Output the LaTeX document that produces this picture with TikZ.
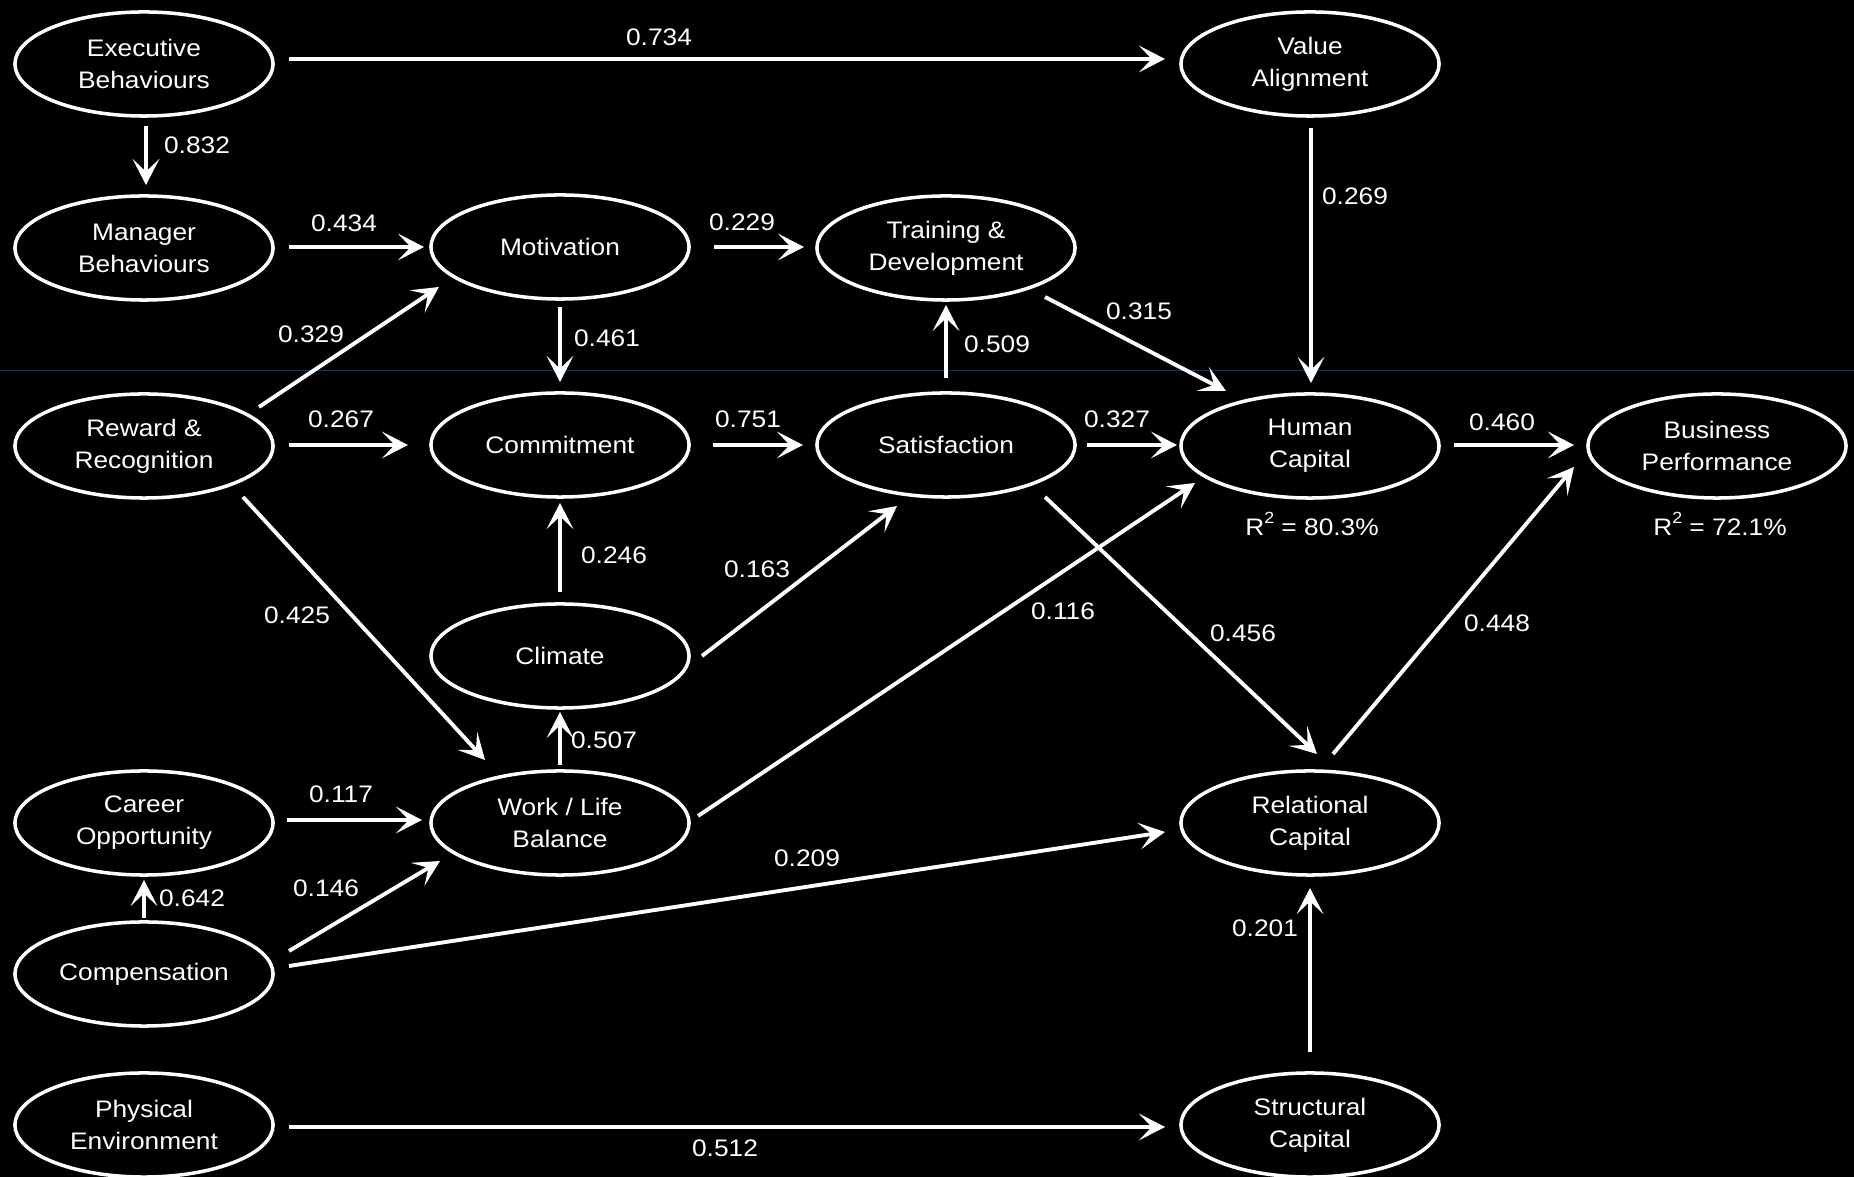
\documentclass[tikz,border=0pt]{standalone}
\usepackage{fontspec}
\setmainfont{Liberation Sans}[FakeStretch=1.1]
\usetikzlibrary{arrows.meta,calc,shapes.geometric}

\tikzset{
	latent/.style={ellipse,draw=white,line width=1pt,minimum width=2.58cm,minimum height=1.04cm,
		inner sep=0pt,align=center,text=white,font=\fontsize{6.8}{9.1}\selectfont},
	coef/.style={inner sep=0pt,text=white,font=\fontsize{6.8}{9.1}\selectfont},
	link/.style={draw=white,line width=1.1pt,-{Stealth[length=7.4pt,width=7.6pt,inset=3.6pt]}}
}
\newcommand{\rsq}{R\raisebox{0.9ex}{\fontsize{4.6}{5}\selectfont 2}}

\begin{document}
\begin{tikzpicture}[x=0.01cm,y=-0.01cm]
	\fill[black] (0,0) rectangle (1854,1177);
	\useasboundingbox (0,0) rectangle (1854,1177);
	\draw[line width=0.2pt,color={rgb,255:red,20;green,50;blue,85}] (0,370)--(1854,370);

	% constructs
	\node[latent] (exe) at (144,64) {Executive\\Behaviours};
	\node[latent] (mgr) at (144,248) {Manager\\Behaviours};
	\node[latent] (rew) at (144,446) {Reward \&\\Recognition};
	\node[latent] (car) at (144,823) {Career\\Opportunity};
	\node[latent] (comp) at (144,974) {Compensation};
	\node[latent] (phys) at (144,1125) {Physical\\Environment};
	\node[latent] (mot) at (560,247) {Motivation};
	\node[latent] (com) at (560,445) {Commitment};
	\node[latent] (cli) at (560,656) {Climate};
	\node[latent] (wlb) at (560,823) {Work / Life\\Balance};
	\node[latent] (trn) at (946,248) {Training \&\\Development};
	\node[latent] (sat) at (946,445) {Satisfaction};
	\node[latent] (val) at (1310,64) {Value\\Alignment};
	\node[latent] (hum) at (1310,446) {Human\\Capital};
	\node[latent] (rel) at (1310,823) {Relational\\Capital};
	\node[latent] (str) at (1310,1125) {Structural\\Capital};
	\node[latent] (bus) at (1717,446) {Business\\Performance};

	% paths
	\draw[link] ($(exe)+(145,-5)$)--($(val)+(-145,-5)$);
	\draw[link] ($(exe)+(2,62)$)--($(mgr)+(2,-63)$);
	\draw[link] ($(mgr)+(145,-1)$)--($(mot)+(-136,0)$);
	\draw[link] ($(mot)+(154,0)$)--($(trn)+(-142,-1)$);
	\draw[link] ($(mot)+(0,60)$)--($(com)+(0,-63)$);
	\draw[link] ($(rew)+(115,-39)$)--($(mot)+(-121,40)$);
	\draw[link] ($(rew)+(145,-1)$)--($(com)+(-152,0)$);
	\draw[link] ($(rew)+(99,51)$)--($(wlb)+(-75,-63)$);
	\draw[link] ($(com)+(153,0)$)--($(sat)+(-143,0)$);
	\draw[link] ($(cli)+(0,-64)$)--($(com)+(0,58)$);
	\draw[link] ($(cli)+(142,0)$)--($(sat)+(-49,61)$);
	\draw[link] ($(wlb)+(0,-58)$)--($(cli)+(0,56)$);
	\draw[link] ($(wlb)+(138,-7)$)--($(hum)+(-115,37)$);
	\draw[link] ($(trn)+(99,49)$)--($(hum)+(-84,-55)$);
	\draw[link] ($(sat)+(0,-67)$)--($(trn)+(0,57)$);
	\draw[link] ($(val)+(1,64)$)--($(hum)+(1,-63)$);
	\draw[link] ($(sat)+(141,0)$)--($(hum)+(-133,-1)$);
	\draw[link] ($(sat)+(99,52)$)--($(rel)+(7,-69)$);
	\draw[link] ($(hum)+(144,-1)$)--($(bus)+(-143,-1)$);
	\draw[link] ($(rel)+(23,-69)$)--($(bus)+(-143,21)$);
	\draw[link] ($(car)+(143,-3)$)--($(wlb)+(-138,-3)$);
	\draw[link] ($(comp)+(0,-56)$)--($(car)+(0,57)$);
	\draw[link] ($(comp)+(145,-23)$)--($(wlb)+(-120,38)$);
	\draw[link] ($(comp)+(145,-8)$)--($(rel)+(-145,9)$);
	\draw[link] ($(str)+(0,-73)$)--($(rel)+(0,65)$);
	\draw[link] ($(phys)+(145,2)$)--($(str)+(-145,2)$);

	% coefficients
	\node[coef] (c734) at (659,37) {0.734};
	\node[coef] (c832) at (197,145) {0.832};
	\node[coef] (c434) at (344,223) {0.434};
	\node[coef] (c229) at (742,222) {0.229};
	\node[coef] (c269) at (1355,196) {0.269};
	\node[coef] (c329) at (311,334) {0.329};
	\node[coef] (c461) at (607,338) {0.461};
	\node[coef] (c315) at (1139,311) {0.315};
	\node[coef] (c509) at (997,344) {0.509};
	\node[coef] (c267) at (341,419) {0.267};
	\node[coef] (c751) at (748,419) {0.751};
	\node[coef] (c327) at (1117,419) {0.327};
	\node[coef] (c460) at (1502,422) {0.460};
	\node[coef] (c246) at (614,555) {0.246};
	\node[coef] (c163) at (757,569) {0.163};
	\node[coef] (c425) at (297,615) {0.425};
	\node[coef] (c116) at (1063,611) {0.116};
	\node[coef] (c456) at (1243,633) {0.456};
	\node[coef] (c448) at (1497,623) {0.448};
	\node[coef] (c507) at (604,740) {0.507};
	\node[coef] (c117) at (341,794) {0.117};
	\node[coef] (c209) at (807,858) {0.209};
	\node[coef] (c146) at (326,888) {0.146};
	\node[coef] (c642) at (192,898) {0.642};
	\node[coef] (c201) at (1265,928) {0.201};
	\node[coef] (c512) at (725,1148) {0.512};
	\node[coef] (rsqhum) at (1312,524) {\rsq{} = 80.3\%};
	\node[coef] (rsqbus) at (1720,524) {\rsq{} = 72.1\%};
\end{tikzpicture}
\end{document}
